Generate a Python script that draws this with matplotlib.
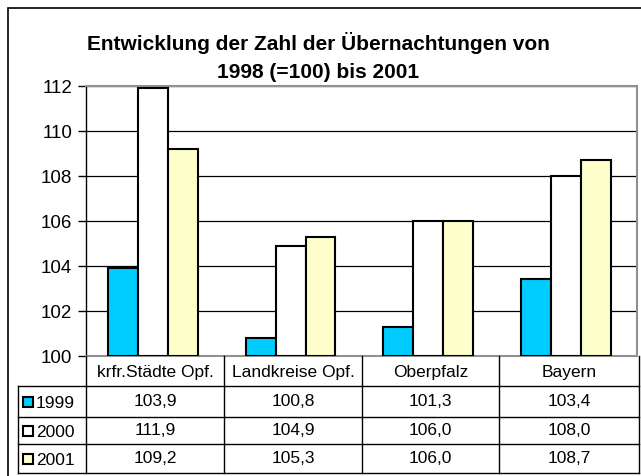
import matplotlib
matplotlib.use("Agg")
import matplotlib.pyplot as plt
import numpy as np
from matplotlib.patches import Rectangle
from matplotlib.lines import Line2D

plt.rcParams['font.family'] = ['Liberation Sans', 'DejaVu Sans']

categories = ["krfr.Städte Opf.", "Landkreise Opf.", "Oberpfalz", "Bayern"]
series_names = ["1999", "2000", "2001"]
v1999 = [103.9, 100.8, 101.3, 103.4]
v2000 = [111.9, 104.9, 106.0, 108.0]
v2001 = [109.2, 105.3, 106.0, 108.7]
series_values = [v1999, v2000, v2001]
colors = ["#00CCFF", "#FFFFFF", "#FFFFCC"]
title = "Entwicklung der Zahl der Übernachtungen von\n1998 (=100) bis 2001"
yticks = [100, 102, 104, 106, 108, 110, 112]

W, H = 641, 477
fig = plt.figure(figsize=(W / 100, H / 100), dpi=100)

def fx(x):
    return x / W

def fy(y):
    return 1 - y / H

L, R, T, B = 86, 637, 87, 357
ax = fig.add_axes([fx(L), fy(B), (R - L) / W, (B - T) / H])

x = np.arange(len(categories))
bw = 0.217
for i, (vals, c) in enumerate(zip(series_values, colors)):
    base = 100
    ax.bar(x + (i - 1) * bw - 0.015, np.array(vals) - base, bw, bottom=base,
           color=c, edgecolor="black", linewidth=1.5, zorder=3)

ax.set_xlim(-0.5, len(categories) - 0.5)
ax.set_ylim(100, 112)
ax.set_yticks(yticks)
ax.set_yticklabels([str(t) for t in yticks], fontsize=13.5)
ax.set_xticks([])
ax.yaxis.grid(True, color="black", linewidth=0.9, zorder=0)
ax.set_axisbelow(True)
ax.tick_params(axis="y", length=6, width=1, direction="out", pad=4)
for s in ["top", "right", "bottom"]:
    ax.spines[s].set_color("#909090")
    ax.spines[s].set_linewidth(1.5)
ax.spines["left"].set_color("black")
ax.spines["left"].set_linewidth(1)

fig.text(fx(318), fy(57), title, ha="center", va="center", fontsize=15,
         fontweight="bold", linespacing=1.55)

# outer border
fig.add_artist(Rectangle((fx(8), fy(480)), (W) / W, (480 - 9) / H, transform=fig.transFigure,
                         fill=False, edgecolor="black", linewidth=1.2))

# data table
col_x = [86, 224, 362, 499, 639]
row_y = [357, 387, 418, 445, 474]
tl = 18

def hline(y, x0, x1):
    fig.add_artist(Line2D([fx(x0), fx(x1)], [fy(y), fy(y)], transform=fig.transFigure,
                          color="black", linewidth=1))

def vline(x, y0, y1):
    fig.add_artist(Line2D([fx(x), fx(x)], [fy(y0), fy(y1)], transform=fig.transFigure,
                          color="black", linewidth=1))

hline(row_y[1], tl, col_x[-1])
hline(row_y[2], tl, col_x[-1])
hline(row_y[3], tl, col_x[-1])
hline(row_y[4], tl, col_x[-1])
vline(tl, row_y[1], row_y[4])
for cx in col_x:
    vline(cx, row_y[0], row_y[4])

for j, cat in enumerate(categories):
    xc = (col_x[j] + col_x[j + 1]) / 2
    yc = (row_y[0] + row_y[1]) / 2
    fig.text(fx(xc), fy(yc), cat, ha="center", va="center", fontsize=12.5)

for i, (name, vals, c) in enumerate(zip(series_names, series_values, colors)):
    yc = (row_y[i + 1] + row_y[i + 2]) / 2
    fig.add_artist(Rectangle((fx(22.5), fy(yc + 5)), 10 / W, 10 / H, transform=fig.transFigure,
                             facecolor=c, edgecolor="black", linewidth=1.5))
    fig.text(fx(36), fy(yc + 1), name, ha="left", va="center", fontsize=12.5)
    for j, v in enumerate(vals):
        xc = (col_x[j] + col_x[j + 1]) / 2
        fig.text(fx(xc), fy(yc - 1), f"{v:.1f}".replace(".", ","), ha="center", va="center",
                 fontsize=12.5)

fig.savefig("out.png", dpi=100)
